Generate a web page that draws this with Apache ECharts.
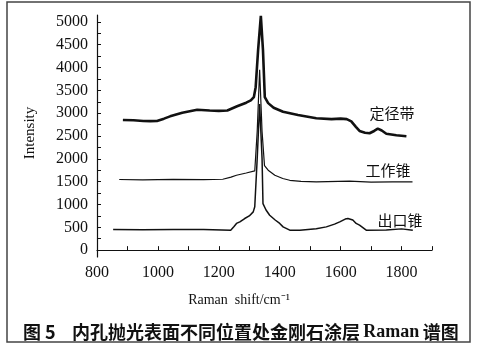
<!DOCTYPE html>
<html>
<head>
<meta charset="utf-8">
<script src="https://cdn.jsdelivr.net/npm/echarts@6/dist/echarts.min.js"></script>
<style>
  html, body { margin: 0; padding: 0; background: #fff; }
  #main { width: 481px; height: 351px; }
</style>
</head>
<body>
<div id="main"></div>
<script>
// 横轴刻度
var xLabelValues = [800, 1000, 1200, 1400, 1600, 1800];
var xTickValues = [800, 900, 1000, 1100, 1200, 1300, 1400, 1500, 1600, 1700, 1800, 1900];
var yLabelValues = [0, 500, 1000, 1500, 2000, 2500, 3000, 3500, 4000, 4500, 5000];
var yTickValues = [0, 250, 500, 750, 1000, 1250, 1500, 1750, 2000, 2250, 2500, 2750, 3000,
  3250, 3500, 3750, 4000, 4250, 4500, 4750, 5000];

// 定径带
var topX = [885, 920, 952, 975, 997, 1020, 1040, 1080, 1129, 1170, 1200, 1228, 1260, 1290, 1305, 1315, 1321, 1329, 1338, 1345, 1351, 1362, 1380, 1411, 1460, 1520, 1570, 1600, 1620, 1635, 1650, 1662, 1680, 1695, 1710, 1722, 1735, 1750, 1783, 1816];
var topY = [2850, 2845, 2830, 2825, 2830, 2880, 2930, 3010, 3075, 3060, 3050, 3060, 3150, 3230, 3280, 3350, 3570, 4380, 5130, 4380, 3350, 3220, 3120, 3030, 2960, 2890, 2870, 2880, 2870, 2820, 2700, 2610, 2570, 2560, 2610, 2660, 2620, 2550, 2515, 2495];

// 工作锥
var midX = [873, 950, 1050, 1150, 1213, 1240, 1258, 1290, 1318, 1326, 1334, 1342, 1350, 1362, 1384, 1410, 1433, 1470, 1520, 1629, 1700, 1770, 1836];
var midY = [1547, 1540, 1550, 1545, 1553, 1600, 1640, 1690, 1735, 2600, 3950, 2600, 1850, 1750, 1640, 1570, 1530, 1505, 1495, 1510, 1490, 1495, 1495];

// 出口锥
var botX = [853, 950, 1050, 1150, 1239, 1250, 1258, 1269, 1285, 1300, 1313, 1318, 1326, 1334, 1342, 1345, 1355, 1367, 1385, 1400, 1411, 1433, 1466, 1520, 1553, 1580, 1597, 1615, 1624, 1640, 1651, 1662, 1684, 1750, 1800, 1837];
var botY = [450, 445, 455, 450, 437, 520, 585, 620, 693, 750, 838, 950, 2000, 3200, 2000, 1020, 880, 765, 660, 585, 510, 437, 437, 470, 510, 570, 620, 680, 693, 660, 585, 547, 437, 440, 466, 437];

var seriesNames = ['定径带', '工作锥', '出口锥'];

function pairs(xs, ys) {
  var out = [];
  for (var i = 0; i < xs.length; i++) {
    out.push([xs[i], ys[i]]);
  }
  return out;
}

var chart = echarts.init(document.getElementById('main'));
var serif = '"Liberation Serif", "Times New Roman", serif';
var cjk = '"Noto Sans CJK SC", sans-serif';

var option = {
  backgroundColor: '#fff',
  animation: false,
  grid: { left: 97, right: 49, top: 15, bottom: 94 },
  xAxis: {
    type: 'value',
    min: 800,
    max: 1900,
    splitLine: { show: false },
    axisLine: { lineStyle: { color: '#111', width: 1.2 } },
    axisTick: { inside: true, length: 4, customValues: xTickValues, lineStyle: { color: '#111' } },
    axisLabel: {
      customValues: xLabelValues,
      formatter: function (v) { return String(v); },
      color: '#111',
      fontFamily: serif,
      fontSize: 16,
      margin: 8
    }
  },
  yAxis: {
    type: 'value',
    min: -150,
    max: 5150,
    splitLine: { show: false },
    axisLine: { lineStyle: { color: '#111', width: 1.2 } },
    axisTick: { inside: true, length: 4, customValues: yTickValues, lineStyle: { color: '#111' } },
    axisLabel: {
      customValues: yLabelValues,
      formatter: function (v) { return String(v); },
      color: '#111',
      fontFamily: serif,
      fontSize: 16,
      margin: 9
    }
  },
  series: [
    {
      name: seriesNames[0],
      type: 'line',
      data: pairs(topX, topY),
      showSymbol: false,
      lineStyle: { color: '#111', width: 2.6 }
    },
    {
      name: seriesNames[1],
      type: 'line',
      data: pairs(midX, midY),
      showSymbol: false,
      lineStyle: { color: '#111', width: 1.2 }
    },
    {
      name: seriesNames[2],
      type: 'line',
      data: pairs(botX, botY),
      showSymbol: false,
      lineStyle: { color: '#111', width: 1.5 }
    }
  ],
  graphic: [
    // 外框
    {
      type: 'rect',
      shape: { x: 7, y: 2, width: 463, height: 340 },
      style: { fill: 'none', stroke: '#444', lineWidth: 1.5 },
      silent: true
    },
    {
      type: 'text',
      x: 30, y: 133, rotation: Math.PI / 2,
      style: { text: 'Intensity', font: '15px ' + serif, fill: '#111', align: 'center', verticalAlign: 'middle' }
    },
    {
      type: 'text',
      x: 239, y: 300,
      style: { text: 'Raman  shift/cm⁻¹', font: '14px ' + serif, fill: '#111', align: 'center', verticalAlign: 'middle' }
    },
    {
      type: 'text',
      x: 392, y: 113,
      style: { text: seriesNames[0], font: '15px ' + cjk, fill: '#111', align: 'center', verticalAlign: 'middle' }
    },
    {
      type: 'text',
      x: 388, y: 170,
      style: { text: seriesNames[1], font: '15px ' + cjk, fill: '#111', align: 'center', verticalAlign: 'middle' }
    },
    {
      type: 'text',
      x: 400, y: 220,
      style: { text: seriesNames[2], font: '15px ' + cjk, fill: '#111', align: 'center', verticalAlign: 'middle' }
    },
    {
      type: 'text',
      x: 23, y: 332,
      style: { text: '图 5', font: 'bold 18px ' + cjk, fill: '#111', verticalAlign: 'middle' }
    },
    {
      type: 'text',
      x: 72, y: 332,
      style: {
        text: '{c|内孔抛光表面不同位置处金刚石涂层} {r|Raman} {c|谱图}',
        verticalAlign: 'middle',
        rich: {
          c: { font: 'bold 18px ' + cjk, fill: '#111' },
          r: { font: 'bold 18px ' + serif, fill: '#111' }
        }
      }
    }
  ]
};
chart.setOption(option);
</script>
</body>
</html>
